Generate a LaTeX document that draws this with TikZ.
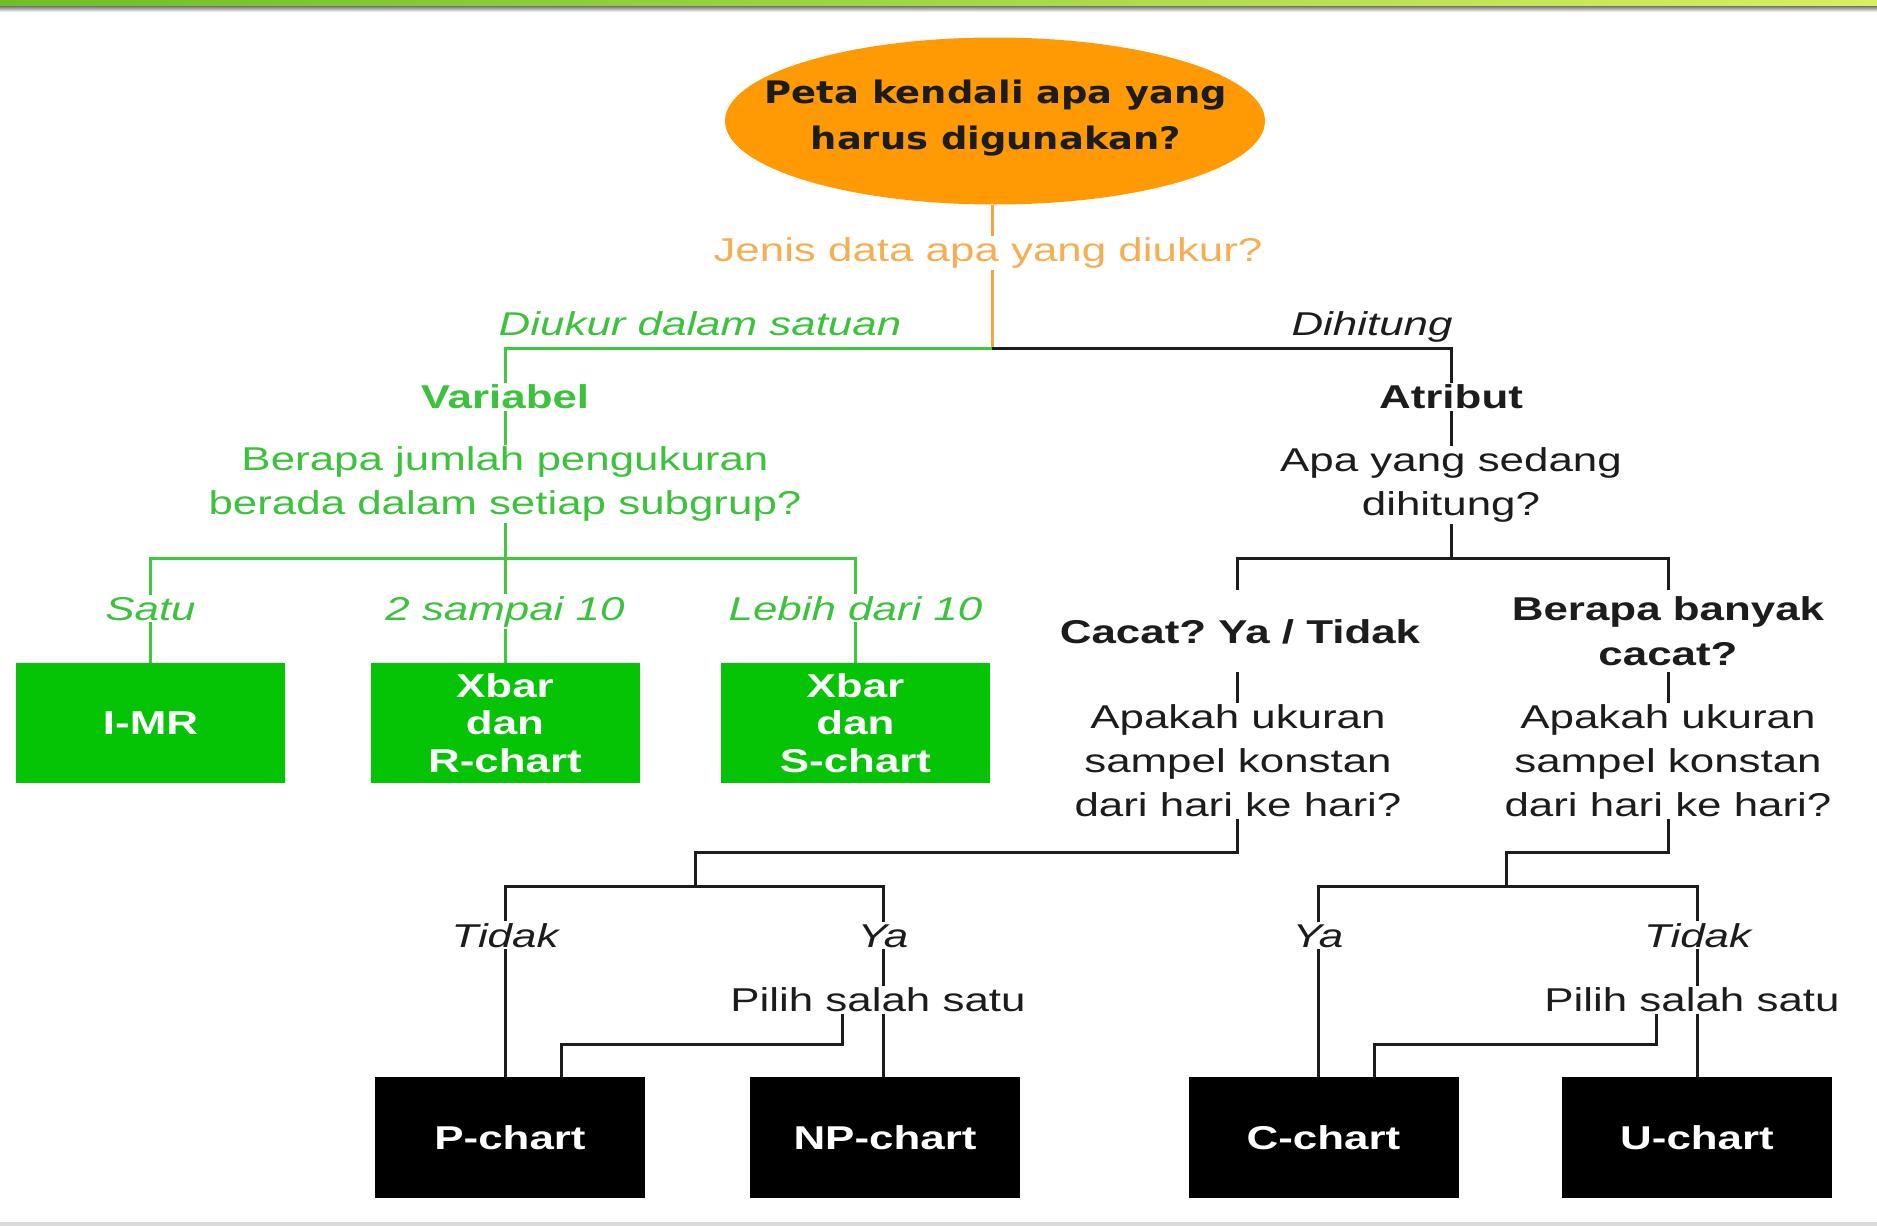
\documentclass[tikz,border=0pt]{standalone}
\usepackage{fontspec}
\setmainfont{Liberation Sans}[FakeStretch=1.33]
\newfontfamily\ellfont{DejaVu Sans}[FakeStretch=1.19]
\usetikzlibrary{shapes.geometric}
\frenchspacing
\definecolor{ellorange}{HTML}{FF9A05}
\definecolor{orangetxt}{HTML}{F6AE55}
\definecolor{orangeline}{HTML}{F5A540}
\definecolor{gtext}{HTML}{3CC23C}
\definecolor{colGreenLine}{HTML}{40C840}
\definecolor{boxgreen}{HTML}{05C305}
\definecolor{inkc}{HTML}{1C1C1C}
\definecolor{barL}{HTML}{6DBE28}
\definecolor{barR}{HTML}{D8EF62}
\begin{document}
\begin{tikzpicture}[x=1pt,y=-1pt,
  txt/.style={font=\fontsize{33}{44}\selectfont, inner sep=2pt, outer sep=0pt, align=center, text=inkc},
  bld/.style={txt, font=\fontsize{33}{44}\selectfont\bfseries},
  itl/.style={txt, font=\fontsize{33}{44}\selectfont\itshape},
  gtxt/.style={text=gtext},
  otxt/.style={text=orangetxt},
  gbox/.style={fill=boxgreen, minimum width=269, minimum height=120, inner sep=0pt, outer sep=0pt,
    text=white, align=center, font=\fontsize{33}{37.5}\selectfont\bfseries},
  kbox/.style={fill=black, minimum width=270, minimum height=121, inner sep=0pt, outer sep=0pt,
    text=white, align=center, font=\fontsize{33}{37.5}\selectfont\bfseries},
  gl/.style={draw=colGreenLine, line width=3pt},
  kl/.style={draw=inkc, line width=3pt},
  ol/.style={draw=orangeline, line width=3pt}]
\useasboundingbox (0,0) rectangle (1877,1226);
% frame decoration
\shade[left color=barL, right color=barR] (0,0) rectangle (1877,6);
\shade[top color=black!55, bottom color=white] (0,6) rectangle (1877,12);
\fill[black!14] (0,1222) rectangle (1877,1226);

% root
\node[ellipse, fill=ellorange, minimum width=540, minimum height=167, inner sep=0pt] (top) at (995,121) {};
\node[txt, font=\ellfont\bfseries\fontsize{31}{46}\selectfont] (toptxt) at (996,118) {Peta kendali apa yang\\harus digunakan?};
\node[txt, otxt] (jenis) at (988,253) {Jenis data apa yang diukur?};
\coordinate (J) at (992,348);
\coordinate (Lc) at (505,348);
\coordinate (Rc) at (1451,348);
\draw[ol] (J |- top.south) -- (J |- jenis.north);
\draw[ol] (J |- jenis.south) -- (J);
\node[itl, gtxt, anchor=base] (diukur) at (700,335) {Diukur dalam satuan};
\node[itl, anchor=base] (dihitung) at (1372,335) {Dihitung};

% variabel branch
\node[bld, gtxt] (variabel) at (505,397) {Variabel};
\node[txt, gtxt] (qvar) at (505,484) {Berapa jumlah pengukuran\\berada dalam setiap subgrup?};
\draw[gl] (J) -- (Lc) -- (variabel.north);
\draw[gl] (variabel) -- (qvar);
\coordinate (G0) at (505,558);
\coordinate (GL) at (150.5,558);
\coordinate (GR) at (855.5,558);
\draw[gl] (qvar) -- (G0);
\node[itl, gtxt, anchor=base] (satu) at (150.5,620) {Satu};
\node[itl, gtxt, anchor=base] (dua) at (505,620) {2 sampai 10};
\node[itl, gtxt, anchor=base] (lebih) at (855.5,620) {Lebih dari 10};
\draw[gl] (satu) -- (GL) -- (GR) -- (lebih);
\draw[gl] (G0) -- (dua);
\node[gbox] (imr) at (150.5,723) {I-MR};
\node[gbox] (xr) at (505,723) {Xbar\\dan\\R-chart};
\node[gbox] (xs) at (855.5,723) {Xbar\\dan\\S-chart};
\draw[gl] (satu) -- (satu |- imr.north);
\draw[gl] (dua) -- (dua |- xr.north);
\draw[gl] (lebih) -- (lebih |- xs.north);

% atribut branch
\node[bld] (atribut) at (1451,397) {Atribut};
\node[txt] (qatr) at (1451,485) {Apa yang sedang\\dihitung?};
\draw[kl] (J) -- (Rc) -- (atribut.north);
\draw[kl] (atribut) -- (qatr);
\coordinate (A0) at (1451,558);
\coordinate (AL) at (1237,558);
\coordinate (AR) at (1668,558);
\draw[kl] (qatr) -- (A0);
\node[bld] (cacat) at (1240,632) {Cacat? Ya / Tidak};
\node[bld, font=\fontsize{33}{45}\selectfont\bfseries] (berapa) at (1668,631) {Berapa banyak\\cacat?};
\coordinate (cacatTop) at ([yshift=28pt]cacat.north);
\coordinate (cacatBot) at ([yshift=-26pt]cacat.south);
\coordinate (berTop) at ([yshift=4pt]berapa.north);
\coordinate (berBot) at ([yshift=-4pt]berapa.south);
\draw[kl] (AL |- cacatTop) -- (AL) -- (AR) -- (AR |- berTop);
\node[txt] (qc1) at (1238,761) {Apakah ukuran\\sampel konstan\\dari hari ke hari?};
\node[txt] (qc2) at (1668,761) {Apakah ukuran\\sampel konstan\\dari hari ke hari?};
\draw[kl] (AL |- cacatBot) -- (AL |- qc1.north);
\draw[kl] (AR |- berBot) -- (AR |- qc2.north);

% left attribute subtree
\coordinate (L1) at (1237,852);
\coordinate (L2) at (695.5,852);
\coordinate (L3) at (695.5,886);
\coordinate (TL) at (505,886);
\coordinate (TR) at (883,886);
\draw[kl] (L1 |- qc1.south) -- (L1) -- (L2) -- (L3);
\node[itl, anchor=base] (tidakL) at (505,947) {Tidak};
\node[itl, anchor=base] (yaL) at (883,947) {Ya};
\draw[kl] (tidakL) -- (TL) -- (TR) -- (yaL);
\node[txt] (pilihL) at (878,1000) {Pilih salah satu};
\node[kbox] (pchart) at (510,1137.5) {P-chart};
\node[kbox] (npchart) at (885,1137.5) {NP-chart};
\draw[kl] (tidakL) -- (tidakL |- pchart.north);
\draw[kl] (yaL) -- (yaL |- pilihL.north);
\draw[kl] (yaL |- pilihL.south) -- (yaL |- npchart.north);
\coordinate (P1) at (842,1044);
\coordinate (P2) at (561,1044);
\draw[kl] (P1 |- pilihL.south) -- (P1) -- (P2) -- (P2 |- pchart.north);

% right attribute subtree
\coordinate (R1) at (1668,852);
\coordinate (R2) at (1506,852);
\coordinate (R3) at (1506,886);
\coordinate (TL2) at (1318,886);
\coordinate (TR2) at (1697.5,886);
\draw[kl] (qc2) -- (R1) -- (R2) -- (R3);
\node[itl, anchor=base] (yaR) at (1318,947) {Ya};
\node[itl, anchor=base] (tidakR) at (1697.5,947) {Tidak};
\draw[kl] (yaR) -- (TL2) -- (TR2) -- (tidakR);
\node[txt] (pilihR) at (1692,1000) {Pilih salah satu};
\node[kbox] (cchart) at (1323.5,1137.5) {C-chart};
\node[kbox] (uchart) at (1697,1137.5) {U-chart};
\draw[kl] (yaR) -- (yaR |- cchart.north);
\draw[kl] (tidakR) -- (tidakR |- pilihR.north);
\draw[kl] (tidakR |- pilihR.south) -- (tidakR |- uchart.north);
\coordinate (P3) at (1656.8,1044);
\coordinate (P4) at (1374,1044);
\draw[kl] (P3 |- pilihR.south) -- (P3) -- (P4) -- (P4 |- cchart.north);
\end{tikzpicture}
\end{document}
